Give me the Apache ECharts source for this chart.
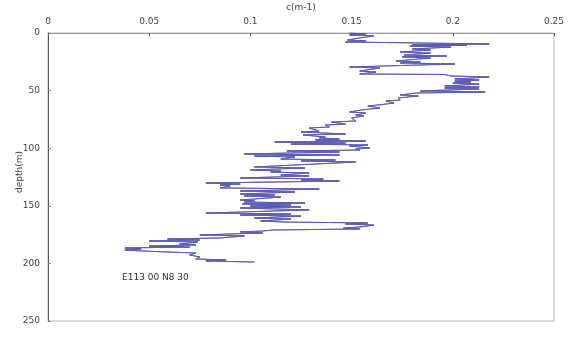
<!DOCTYPE html>
<html>
<head>
<meta charset="utf-8">
<script src="https://cdn.jsdelivr.net/npm/echarts@6/dist/echarts.min.js"></script>
<style>html,body{margin:0;padding:0;background:#fff}#c{width:570px;height:350px}</style>
</head>
<body>
<div id="c"></div>
<script>
var xTicks = [0, 0.05, 0.1, 0.15, 0.2, 0.25];
var yTicks = [0, 50, 100, 150, 200, 250];
var depth = [0,0.9,1.7,2.6,4.3,6.1,6.9,7.8,9.5,10.4,10.6,11.3,12.2,13.9,14.8,16.5,17.4,19.1,20.0,20.8,21.7,24.3,25.2,26.0,26.9,29.5,30.4,33.0,33.9,35.6,36.0,37.3,38.2,39.9,40.8,41.7,42.5,43.4,44.3,46.0,46.9,47.7,48.6,50.3,51.2,52.1,53.8,54.7,56.4,58.2,59.0,60.8,62.5,63.4,65.1,66.8,68.6,69.4,71.2,72.0,73.8,76.4,77.3,79.0,79.9,81.6,82.5,85.1,85.9,87.7,88.5,90.3,91.1,92.0,92.9,93.8,94.6,95.5,96.4,97.2,98.1,99.8,100.7,101.6,102.4,103.3,105.0,105.9,106.8,107.6,109.4,110.2,111.1,112.0,116.3,117.2,118.9,119.8,120.7,121.5,123.3,124.1,125.9,126.7,127.6,128.5,130.2,131.1,131.9,132.8,134.5,135.4,137.2,138.0,139.8,140.6,141.5,142.4,145.0,145.8,146.7,147.6,148.4,149.3,150.2,151.0,151.9,153.6,156.3,157.1,158.0,158.9,160.6,161.5,163.2,164.1,164.9,165.8,166.7,168.4,169.3,170.1,171.0,171.9,172.7,173.6,175.3,176.2,177.9,178.8,179.7,180.6,181.4,183.2,184.0,184.9,185.8,186.6,187.5,188.4,189.2,191.0,192.7,194.4,196.2,197.0,197.9,198.8];
var cVal = [0.149,0.157,0.149,0.161,0.154,0.148,0.157,0.147,0.218,0.180,0.207,0.179,0.199,0.180,0.189,0.174,0.189,0.176,0.197,0.175,0.189,0.172,0.184,0.174,0.201,0.149,0.164,0.154,0.162,0.154,0.196,0.199,0.218,0.201,0.213,0.201,0.209,0.200,0.213,0.196,0.213,0.196,0.213,0.184,0.216,0.182,0.174,0.183,0.173,0.174,0.167,0.171,0.163,0.158,0.164,0.155,0.149,0.157,0.152,0.156,0.150,0.152,0.140,0.147,0.137,0.139,0.129,0.134,0.125,0.147,0.126,0.137,0.134,0.144,0.132,0.157,0.112,0.147,0.120,0.158,0.149,0.159,0.152,0.154,0.118,0.144,0.097,0.144,0.102,0.122,0.115,0.142,0.125,0.152,0.102,0.127,0.100,0.115,0.110,0.129,0.115,0.129,0.095,0.136,0.125,0.144,0.078,0.095,0.085,0.090,0.085,0.134,0.095,0.122,0.095,0.112,0.097,0.115,0.095,0.102,0.097,0.127,0.096,0.120,0.100,0.125,0.095,0.129,0.078,0.120,0.095,0.125,0.102,0.120,0.105,0.117,0.158,0.147,0.161,0.154,0.146,0.154,0.111,0.106,0.095,0.106,0.075,0.097,0.085,0.059,0.075,0.050,0.074,0.065,0.073,0.050,0.070,0.038,0.046,0.038,0.046,0.073,0.070,0.075,0.073,0.088,0.078,0.102];
var xName = 'c(m-1)';
var yName = 'depth(m)';
var annotation = 'E113 00 N8 30';

var pts = depth.map(function (d, i) { return [cVal[i], d]; });
var font = 'DejaVu Sans';
var chart = echarts.init(document.getElementById('c'));
chart.setOption({
  animation: false,
  backgroundColor: '#fff',
  grid: { left: 48, right: 16, top: 33, bottom: 29, outerBoundsMode: 'none', containLabel: false,
    show: true, borderColor: '#b8b8b8', borderWidth: 1 },
  xAxis: {
    type: 'value', position: 'top', min: 0, max: 0.25, interval: 0.05,
    axisLine: { show: true, lineStyle: { color: '#999', width: 1 } },
    axisTick: { show: true, inside: true, length: 3, lineStyle: { color: '#666' } },
    axisLabel: { margin: 7, fontFamily: font, fontSize: 9, color: '#444',
      formatter: function (v) { return String(parseFloat(v.toFixed(2))); } },
    splitLine: { show: false }
  },
  yAxis: {
    type: 'value', inverse: true, min: 0, max: 250, interval: 50,
    axisLine: { show: true, lineStyle: { color: '#555', width: 1 } },
    axisTick: { show: true, inside: true, length: 3, lineStyle: { color: '#888' } },
    axisLabel: { margin: 8, fontFamily: font, fontSize: 9, color: '#444' },
    splitLine: { show: false }
  },
  graphic: [
    { type: 'text', x: 301, y: 8,
      style: { text: xName, fontFamily: font, fontSize: 9, fill: '#444', align: 'center', verticalAlign: 'middle' } },
    { type: 'text', x: 20, y: 172, rotation: Math.PI / 2,
      style: { text: yName, fontFamily: font, fontSize: 9, fill: '#444', align: 'center', verticalAlign: 'middle' } },
    { type: 'text', left: 122, top: 273,
      style: { text: annotation, fontFamily: font, fontSize: 9, fill: '#333' } }
  ],
  series: [
    { type: 'line', name: 'black', data: pts, showSymbol: false, symbol: 'none',
      lineStyle: { color: '#000', width: 1, opacity: 0.5 }, z: 2 },
    { type: 'line', name: 'blue', data: pts, showSymbol: false, symbol: 'none',
      lineStyle: { color: '#5a5ac0', width: 1 }, z: 3 }
  ]
});
</script>
</body>
</html>
